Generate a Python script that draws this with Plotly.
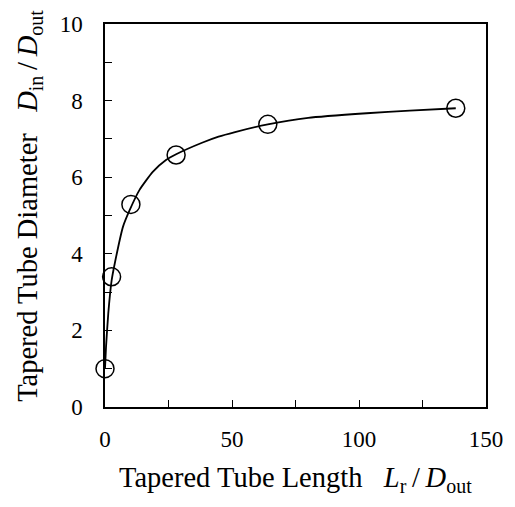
import plotly.graph_objects as go

# measured points
length_ratio = [0, 2.6, 10.2, 28.0, 64.1, 138.1]
diameter_ratio = [1.0, 3.40, 5.29, 6.58, 7.38, 7.80]

# fitted curve
curve_x = [0, 0.4, 1.3, 2.6, 4, 7.1, 9.7, 13.6, 18.8, 24, 28, 38.2, 44.7, 51.2, 64.1, 80, 103, 120, 138.1]
curve_y = [1.0, 1.57, 2.45, 3.30, 3.80, 4.71, 5.14, 5.67, 6.14, 6.45, 6.60, 6.90, 7.06, 7.18, 7.38, 7.55, 7.67, 7.74, 7.80]

x_ticks = [0, 50, 100, 150]
x_minor = [25, 75, 125]
y_ticks = [0, 2, 4, 6, 8, 10]
y_minor = [1, 3, 5, 7, 9]

FONT = "Liberation Serif, Times New Roman, serif"

fig = go.Figure()
fig.add_trace(go.Scatter(x=curve_x, y=curve_y, mode="lines",
                         line=dict(color="black", width=1.8, shape="spline", smoothing=0.5),
                         hoverinfo="skip", showlegend=False))
fig.add_trace(go.Scatter(x=length_ratio, y=diameter_ratio, mode="markers",
                         marker=dict(symbol="circle-open", size=18, color="black",
                                     line=dict(color="black", width=1.5)),
                         cliponaxis=False, showlegend=False))

axis_common = dict(showgrid=False, zeroline=False, showline=True, linecolor="black",
                   linewidth=1.5, mirror=True, ticks="inside", ticklen=7, tickwidth=1.3,
                   tickcolor="black", tickfont=dict(family=FONT, size=23, color="black"))

fig.update_xaxes(range=[0, 150], tickmode="array", tickvals=x_ticks,
                 minor=dict(tickmode="array", tickvals=x_minor, ticks="inside", ticklen=7,
                            tickwidth=1.3, tickcolor="black", showgrid=False),
                 ticklabelstandoff=11, **axis_common)
fig.update_yaxes(range=[0, 10], tickmode="array", tickvals=y_ticks,
                 minor=dict(tickmode="array", tickvals=y_minor, ticks="inside", ticklen=7,
                            tickwidth=1.3, tickcolor="black", showgrid=False),
                 ticklabelstandoff=16, **axis_common)

nb = "\u00a0"
th = "\u2009"
fig.add_annotation(xref="paper", yref="paper", x=0.5, y=-0.19, xanchor="center", yanchor="middle",
                   showarrow=False, font=dict(family=FONT, size=28.5, color="black"),
                   text="Tapered Tube Length" + nb * 3 + "<i>L</i><sub>r</sub>" + th + "/" + th + "<i>D</i><sub>out</sub>")
fig.add_annotation(xref="paper", yref="paper", x=-0.197, y=0.525, xanchor="center", yanchor="middle",
                   textangle=-90, showarrow=False, font=dict(family=FONT, size=28.5, color="black"),
                   text="Tapered Tube Diameter" + nb * 3 + "<i>D</i><sub>in</sub>" + th + "/" + th + "<i>D</i><sub>out</sub>")

fig.update_layout(width=515, height=507, margin=dict(l=105, r=24, t=24, b=100),
                  plot_bgcolor="white", paper_bgcolor="white", showlegend=False)

fig.write_html("out.html")
